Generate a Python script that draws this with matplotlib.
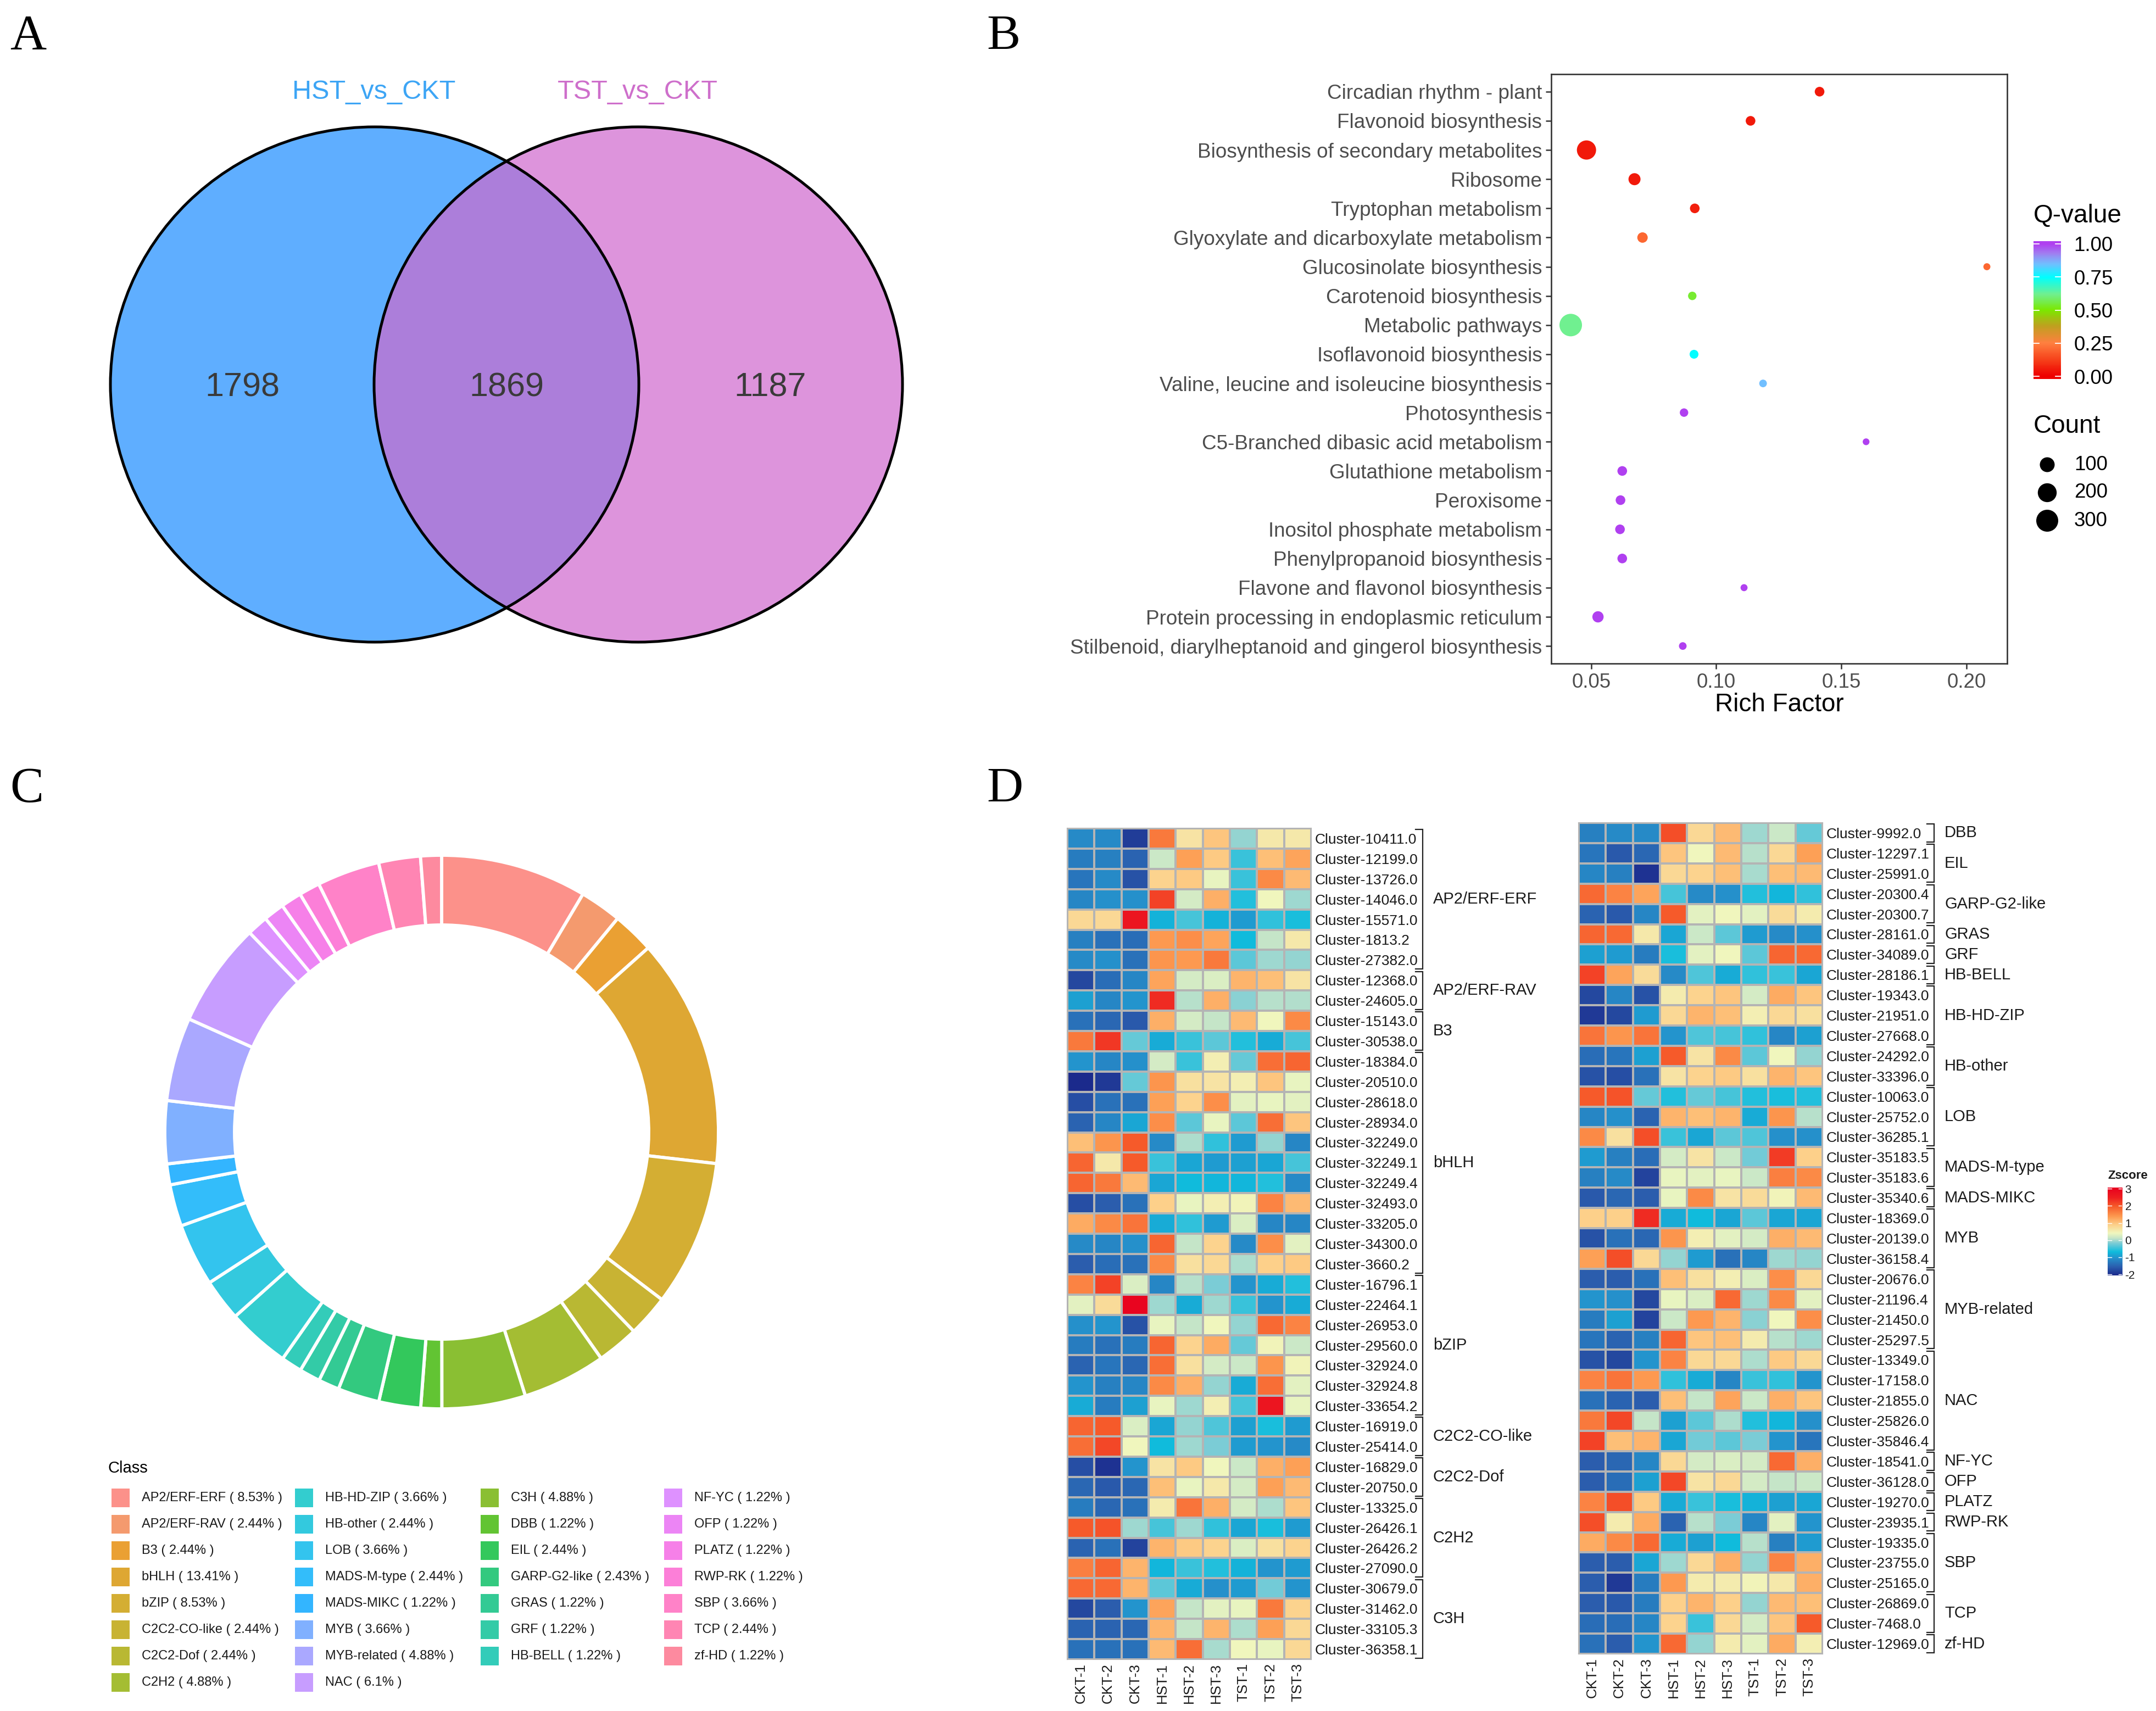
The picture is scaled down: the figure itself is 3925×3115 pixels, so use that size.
import numpy as np
import matplotlib
matplotlib.use("Agg")
import matplotlib.pyplot as plt
from matplotlib.colors import LinearSegmentedColormap, Normalize
from matplotlib.patches import Ellipse, Rectangle

W, H = 3925, 3115
plt.rcParams['font.family'] = ['Liberation Sans', 'DejaVu Sans']

# ---------- data ----------
venn_names = ["HST_vs_CKT", "TST_vs_CKT"]
venn_counts = [1798, 1869, 1187]

pathways = ["Circadian rhythm - plant", "Flavonoid biosynthesis", "Biosynthesis of secondary metabolites",
            "Ribosome", "Tryptophan metabolism", "Glyoxylate and dicarboxylate metabolism",
            "Glucosinolate biosynthesis", "Carotenoid biosynthesis", "Metabolic pathways",
            "Isoflavonoid biosynthesis", "Valine, leucine and isoleucine biosynthesis", "Photosynthesis",
            "C5-Branched dibasic acid metabolism", "Glutathione metabolism", "Peroxisome",
            "Inositol phosphate metabolism", "Phenylpropanoid biosynthesis", "Flavone and flavonol biosynthesis",
            "Protein processing in endoplasmic reticulum", "Stilbenoid, diarylheptanoid and gingerol biosynthesis"]
rich_factor = [0.1413, 0.1137, 0.0481, 0.0673, 0.0914, 0.0705, 0.2082, 0.0904, 0.0418, 0.0911,
               0.1187, 0.0871, 0.1599, 0.0624, 0.0617, 0.0615, 0.0624, 0.1111, 0.0527, 0.0866]
q_value = [0.05, 0.05, 0.05, 0.05, 0.06, 0.2, 0.2, 0.54, 0.62, 0.75,
           0.85, 1.0, 1.0, 1.0, 1.0, 1.0, 1.0, 1.0, 1.0, 1.0]
gene_count = [22, 22, 210, 51, 22, 30, 4, 12, 320, 15, 7, 12, 3, 22, 22, 22, 22, 4, 40, 7]
count_legend = [100, 200, 300]
q_ticks = [0.0, 0.25, 0.5, 0.75, 1.0]

classes = ["AP2/ERF-ERF", "AP2/ERF-RAV", "B3", "bHLH", "bZIP", "C2C2-CO-like", "C2C2-Dof", "C2H2",
           "C3H", "DBB", "EIL", "GARP-G2-like", "GRAS", "GRF", "HB-BELL",
           "HB-HD-ZIP", "HB-other", "LOB", "MADS-M-type", "MADS-MIKC", "MYB", "MYB-related", "NAC",
           "NF-YC", "OFP", "PLATZ", "RWP-RK", "SBP", "TCP", "zf-HD"]
class_pct = ["8.53", "2.44", "2.44", "13.41", "8.53", "2.44", "2.44", "4.88",
             "4.88", "1.22", "2.44", "2.43", "1.22", "1.22", "1.22",
             "3.66", "2.44", "3.66", "2.44", "1.22", "3.66", "4.88", "6.1",
             "1.22", "1.22", "1.22", "1.22", "3.66", "2.44", "1.22"]
class_colors = ["#FC918A", "#F49A6E", "#EAA033", "#DEA733", "#D4AE33", "#C8B333", "#B9B833", "#A4BD33",
                "#8ABF33", "#62C433", "#33C85C", "#33C97F", "#33CA94", "#33CBA7", "#33CCB9",
                "#33CDCF", "#33C9DE", "#33C4EE", "#33BDFA", "#33B5FF", "#80B0FF", "#AAA8FF", "#C79DFF",
                "#DE91FF", "#EC85F5", "#F680E8", "#FC7FD8", "#FF82C8", "#FF85B3", "#FD8A9F"]

samples = ["CKT-1", "CKT-2", "CKT-3", "HST-1", "HST-2", "HST-3", "TST-1", "TST-2", "TST-3"]

left_rows = ["Cluster-10411.0", "Cluster-12199.0", "Cluster-13726.0", "Cluster-14046.0", "Cluster-15571.0",
             "Cluster-1813.2", "Cluster-27382.0", "Cluster-12368.0", "Cluster-24605.0", "Cluster-15143.0",
             "Cluster-30538.0", "Cluster-18384.0", "Cluster-20510.0", "Cluster-28618.0", "Cluster-28934.0",
             "Cluster-32249.0", "Cluster-32249.1", "Cluster-32249.4", "Cluster-32493.0", "Cluster-33205.0",
             "Cluster-34300.0", "Cluster-3660.2", "Cluster-16796.1", "Cluster-22464.1", "Cluster-26953.0",
             "Cluster-29560.0", "Cluster-32924.0", "Cluster-32924.8", "Cluster-33654.2", "Cluster-16919.0",
             "Cluster-25414.0", "Cluster-16829.0", "Cluster-20750.0", "Cluster-13325.0", "Cluster-26426.1",
             "Cluster-26426.2", "Cluster-27090.0", "Cluster-30679.0", "Cluster-31462.0", "Cluster-33105.3",
             "Cluster-36358.1"]
left_groups = ["AP2/ERF-ERF", "AP2/ERF-RAV", "B3", "bHLH", "bZIP", "C2C2-CO-like", "C2C2-Dof", "C2H2", "C3H"]
left_group_sizes = [7, 2, 2, 11, 7, 2, 2, 4, 4]
left_z = [
    [-1.15, -1.15, -1.9, 1.7, .65, 1.0, -.1, .6, .6],
    [-1.3, -1.25, -1.55, .15, 1.35, .95, -.5, 1.05, 1.3],
    [-1.35, -1.15, -1.7, .85, .95, .35, -.5, 1.55, 1.1],
    [-1.2, -1.1, -1.1, 2.2, .2, 1.2, -.6, .4, -.05],
    [.8, .8, 2.7, -.8, -.45, -.8, -1, -.55, -.65],
    [-1.25, -1.4, -1.45, 1.4, 1.5, 1.3, -.7, .1, .6],
    [-1.15, -1.1, -1.4, 1.45, 1.4, 1.7, -.35, -.05, -.1],
    [-1.8, -1.45, -1.2, 1.3, .2, .25, 1.15, 1.05, .65],
    [-.95, -1.2, -1.05, 2.4, .05, 1.2, -.15, .05, .02],
    [-1.4, -1.5, -1.65, 1.2, .2, .1, 1.1, .4, 1.55],
    [1.7, 2.3, -.3, -.85, -.5, -.35, -.6, -.85, -.45],
    [-1.05, -1.2, -1.1, .2, -.5, .5, -.3, 1.8, 1.9],
    [-2.1, -1.95, -.3, 1.45, .7, .65, .5, 1.0, .35],
    [-1.75, -1.4, -1.4, 1.35, .85, 1.5, .3, .35, .3],
    [-1.55, -1.2, -.9, 1.5, -.35, .35, -.35, 1.8, 1.0],
    [1.05, 1.45, 2.0, -1.15, .0, -.55, -1, -.1, -1.2],
    [1.9, .6, 2.0, -.5, -.9, -1, -.95, -.9, -.45],
    [1.9, 1.7, 1.1, -.9, -.7, -.75, -.75, -.6, -1.15],
    [-1.75, -1.6, -1.4, .9, .35, .5, .45, 1.6, 1.1],
    [1.25, 1.55, 1.75, -.85, -.55, -1, .25, -1.2, -1.2],
    [-1.15, -1.2, -1.1, 1.9, .1, .85, -1.15, 1.5, .3],
    [-1.6, -1.45, -1.4, 1.55, .7, .8, 0, .9, .95],
    [1.6, 2.2, .25, -1.2, .05, -.2, -1.05, -.85, -.6],
    [.3, .75, 3.0, -.05, -.85, -.05, -.5, -1.05, -.85],
    [-1.1, -1.05, -1.7, .35, .1, .4, -.1, 1.85, 1.6],
    [-1.3, -1.4, -1.3, 1.9, .85, 1.25, -.3, .45, .15],
    [-1.55, -1.35, -1.5, 1.8, .7, .2, .15, 1.45, .45],
    [-1.05, -1.25, -1.2, 1.55, 1.2, -.1, -.85, 1.8, .3],
    [-.85, -1.3, -.95, .35, -.05, .5, -.45, 2.7, .35],
    [1.9, 2.0, .25, -.9, -.1, -.4, -.95, -.65, -1.0],
    [1.8, 2.15, .4, -.7, -.05, -.2, -1.0, -1.05, -1.15],
    [-1.75, -2, -1.05, .65, .95, .4, .15, 1.2, 1.35],
    [-1.5, -1.65, -1.5, 1.05, .35, .6, .2, 1.35, 1.1],
    [-1.3, -1.5, -1.4, .55, 1.75, 1.2, .2, .0, 1.0],
    [2.0, 2.05, -.05, -.45, -.05, -.55, -.9, -.65, -1.0],
    [-1.55, -1.4, -1.85, 1.15, .95, .85, .25, .7, .85],
    [1.65, 1.9, 1.15, -.75, -.5, -.6, -.8, -1.05, -1.0],
    [1.85, 1.85, 1.15, -.35, -.85, -1.1, -1.0, -.25, -1.05],
    [-1.8, -1.6, -1.05, 1.3, .1, .3, .35, 1.7, .85],
    [-1.55, -1.55, -1.5, 1.15, .1, 1.15, 0, 1.35, .8],
    [-1.4, -1.4, -1.4, 1.1, 1.8, -.02, .4, .35, .8],
]

right_rows = ["Cluster-9992.0", "Cluster-12297.1", "Cluster-25991.0", "Cluster-20300.4", "Cluster-20300.7",
              "Cluster-28161.0", "Cluster-34089.0", "Cluster-28186.1", "Cluster-19343.0", "Cluster-21951.0",
              "Cluster-27668.0", "Cluster-24292.0", "Cluster-33396.0", "Cluster-10063.0", "Cluster-25752.0",
              "Cluster-36285.1", "Cluster-35183.5", "Cluster-35183.6", "Cluster-35340.6", "Cluster-18369.0",
              "Cluster-20139.0", "Cluster-36158.4", "Cluster-20676.0", "Cluster-21196.4", "Cluster-21450.0",
              "Cluster-25297.5", "Cluster-13349.0", "Cluster-17158.0", "Cluster-21855.0", "Cluster-25826.0",
              "Cluster-35846.4", "Cluster-18541.0", "Cluster-36128.0", "Cluster-19270.0", "Cluster-23935.1",
              "Cluster-19335.0", "Cluster-23755.0", "Cluster-25165.0", "Cluster-26869.0", "Cluster-7468.0",
              "Cluster-12969.0"]
right_groups = ["DBB", "EIL", "GARP-G2-like", "GRAS", "GRF", "HB-BELL", "HB-HD-ZIP", "HB-other", "LOB",
                "MADS-M-type", "MADS-MIKC", "MYB", "MYB-related", "NAC", "NF-YC", "OFP", "PLATZ", "RWP-RK",
                "SBP", "TCP", "zf-HD"]
right_group_sizes = [1, 2, 2, 1, 1, 1, 3, 2, 3, 2, 1, 3, 4, 5, 1, 1, 1, 1, 3, 2, 1]
right_z = [
    [-1.25, -1.15, -1.15, 2.1, .8, 1.1, -.05, .15, -.3],
    [-1.35, -1.65, -1.5, 1.0, .4, 1.1, .05, .8, 1.35],
    [-1.2, -1.25, -2.0, .8, .85, 1.05, -.02, 1.05, 1.1],
    [1.85, 1.6, 1.3, -.45, -1.15, -1.1, -.6, -.75, -.55],
    [-1.55, -1.65, -1.2, 2.0, .3, .4, .3, .75, .55],
    [1.9, 1.85, .6, -.9, .15, -.35, -1, -1.15, -1.1],
    [-.95, -1, -1.3, -.65, .3, .4, -.35, 1.9, 1.85],
    [2.2, 1.3, .75, -1.15, -.4, -.85, -.55, -.5, -.9],
    [-1.8, -1.2, -1.7, .55, .85, 1.0, .2, 1.25, 1.0],
    [-1.95, -1.8, -1.0, .8, 1.15, 1.05, .5, .8, .7],
    [1.75, 1.45, 1.75, -1.05, -.4, -.45, -.55, -1.2, -.95],
    [-1.45, -1.35, -.95, 2.0, .65, 1.55, -.35, .4, -.1],
    [-1.7, -1.75, -1.4, .65, .85, .95, .7, 1.15, 1.0],
    [2.0, 2.05, -.3, -.6, -.3, -.45, -.6, -.65, -.6],
    [-1.2, -1.1, -1.55, 1.15, 1.05, 1.15, -.85, 1.45, .05],
    [1.55, .7, 2.1, -.5, -.9, -.35, -.4, -1.1, -1.1],
    [-1, -1.25, -1.45, .2, .65, .15, -.25, 2.25, .9],
    [-1.25, -1.15, -1.85, .35, .3, .35, .15, 1.65, 1.55],
    [-1.65, -1.5, -1.6, .35, 1.55, .65, .75, .45, 1.1],
    [.9, .9, 2.4, -.85, -.7, -.9, -.35, -.9, -.9],
    [-1.7, -1.4, -1.5, 1.45, .5, .3, .2, 1.2, 1.1],
    [1.35, 2.1, .8, -.1, -1, -1.4, -1.2, -.05, -.1],
    [-1.6, -1.6, -1.4, 1.05, .7, .5, .25, 1.5, .8],
    [-1.05, -1.1, -1.8, .35, .25, 1.85, -.05, 1.55, .3],
    [-1.3, -.95, -1.85, .15, 1.4, 1.15, -.15, .4, 1.5],
    [-1.35, -1.55, -1.25, 1.9, 1.0, 1.05, .55, .05, -.05],
    [-1.7, -1.8, -1.05, 1.6, .8, .8, 0, .95, .8],
    [1.6, 1.75, 1.4, -.55, -.85, -1.2, -.5, -.55, -1.05],
    [-1.4, -1.55, -1.6, 1.05, .1, 1.3, .15, 1.2, 1.0],
    [1.7, 2.15, .1, -.95, -.35, .0, -.6, -.75, -1.1],
    [2.2, 1.05, 1.15, -.9, -.25, -.35, -.2, -1.05, -1.35],
    [-1.6, -1.5, -1.2, .8, .2, .25, .2, 1.85, 1.2],
    [-1.6, -1.45, -.95, 2.15, .65, .8, .2, .1, .15],
    [1.6, 2.1, .95, -.85, -.5, -.65, -.8, -.95, -.9],
    [2.1, .55, 1.25, -1.55, .05, -.2, -1.2, .3, -1.05],
    [1.25, 1.55, 1.85, -.85, -.95, -.7, .05, -1.25, -1],
    [-1.6, -1.6, -.9, -.05, .8, 1.2, -.1, 1.6, 1.2],
    [-1.6, -1.95, -1.3, 1.4, .55, .55, .45, .6, 1.2],
    [-1.6, -1.65, -1.3, .9, 1.15, .9, -.1, 1.1, 1.05],
    [-1.45, -1.45, -1.2, .85, -.5, .8, .2, 1.0, 2.0],
    [-1.4, -1.6, -1.05, 1.85, -.1, .55, .3, 1.25, .5],
]
z_ticks = [-2, -1, 0, 1, 2, 3]

# ---------- helpers ----------
fig = plt.figure(figsize=(W / 100, H / 100), dpi=100, facecolor='white')


def px_axes(x0, y0, x1, y1, **kw):
    return fig.add_axes([x0 / W, 1 - y1 / H, (x1 - x0) / W, (y1 - y0) / H], **kw)


def px_text(x, y, s, **kw):
    kw.setdefault('va', 'center')
    kw.setdefault('ha', 'left')
    return fig.text(x / W, 1 - y / H, s, **kw)


def dia_to_s(d_px):
    return (d_px * 0.72) ** 2


def count_to_dia(c):
    return 9.24 + 1.776 * np.sqrt(c)


# panel letters
for letter, (lx, ly) in {"A": (18, 68), "B": (1796, 68), "C": (18, 1438), "D": (1796, 1438)}.items():
    px_text(lx, ly, letter, fontsize=66, family=['Liberation Serif'], color='black')

# ---------- A: Venn ----------
axA = px_axes(0, 0, 1700, 1300)
axA.set_xlim(0, 1700)
axA.set_ylim(1300, 0)
axA.axis('off')
cL, cR, cy, rx, ry = 682, 1162, 700, 481, 469
axA.add_patch(Ellipse((cL, cy), 2 * rx, 2 * ry, fc='#5FAEFF', ec='none'))
axA.add_patch(Ellipse((cR, cy), 2 * rx, 2 * ry, fc='#DD94DC', ec='none'))
both = Ellipse((cL, cy), 2 * rx, 2 * ry, fc='#AC7EDA', ec='none')
axA.add_patch(both)
both.set_clip_path(Ellipse((cR, cy), 2 * rx, 2 * ry, transform=axA.transData))
axA.add_patch(Ellipse((cL, cy), 2 * rx, 2 * ry, fc='none', ec='black', lw=3.6))
axA.add_patch(Ellipse((cR, cy), 2 * rx, 2 * ry, fc='none', ec='black', lw=3.6))
axA.text(681, 168, venn_names[0], color='#3DA5F5', fontsize=35, ha='center', va='center')
axA.text(1161, 168, venn_names[1], color='#CE6FCB', fontsize=35, ha='center', va='center')
for x, n in zip([441, 922, 1402], venn_counts):
    axA.text(x, 706, str(n), color='#3A3A3A', fontsize=44, ha='center', va='center')

# ---------- B: bubble ----------
qcmap = LinearSegmentedColormap.from_list('q', [
    (0.0, '#EE0000'), (0.12, '#F6401A'), (0.25, '#FF8040'), (0.38, '#C0A020'), (0.5, '#7CE800'),
    (0.62, '#70F090'), (0.75, '#00FFFF'), (0.85, '#70C0FF'), (0.93, '#A080F0'), (1.0, '#B040F0')])
axB = px_axes(2824, 135, 3654, 1208)
ypos = np.arange(len(pathways))
axB.scatter(rich_factor, ypos, s=[dia_to_s(count_to_dia(c)) for c in gene_count],
            c=q_value, cmap=qcmap, vmin=0, vmax=1, linewidths=0, zorder=3)
axB.set_xlim(0.034, 0.2163)
axB.set_ylim(19.6, -0.6)
axB.set_yticks(ypos)
axB.set_yticklabels(pathways, fontsize=26.6, color='#4D4D4D')
axB.set_xticks([0.05, 0.10, 0.15, 0.20])
axB.set_xticklabels(['0.05', '0.10', '0.15', '0.20'], fontsize=26.5, color='#4D4D4D')
axB.tick_params(axis='both', length=7.5, width=1.8, color='#333333', pad=4.5)
for s in axB.spines.values():
    s.set_linewidth(1.9)
    s.set_color('#333333')
px_text(3239, 1283, "Rich Factor", fontsize=33, ha='center', color='black')

px_text(3702, 393, "Q-value", fontsize=33, color='black')
cbB = px_axes(3702, 439, 3752, 690)
cbB.imshow(np.linspace(-0.02, 1.02, 256)[:, None], aspect='auto', origin='lower', cmap=qcmap, vmin=0, vmax=1,
           extent=[0, 1, -0.02, 1.02])
cbB.set_xticks([])
cbB.yaxis.tick_right()
cbB.set_yticks(q_ticks)
cbB.set_yticklabels(['%.2f' % t for t in q_ticks], fontsize=26.5, color='black')
cbB.tick_params(axis='y', length=0, pad=17)
for s in cbB.spines.values():
    s.set_visible(False)
for t in q_ticks:
    cbB.plot([0, 0.2], [t, t], color='white', lw=1.3)
    cbB.plot([0.8, 1], [t, t], color='white', lw=1.3)
cbB.set_xlim(0, 1)
cbB.set_ylim(-0.02, 1.02)

px_text(3702, 776, "Count", fontsize=33, color='black')
for yy, c in zip([846, 897, 948], count_legend):
    px_text(3776, yy, str(c), fontsize=26.5, color='black')
lgB = px_axes(3700, 820, 3754, 975)
lgB.scatter([0, 0, 0], count_legend, s=[dia_to_s(count_to_dia(c)) for c in count_legend], color='black', linewidths=0)
lgB.set_xlim(-1, 1)
lgB.set_ylim(353, 49)
lgB.axis('off')

# ---------- C: donut ----------
cx, cyc, R = 804, 2061, 504
axC = px_axes(cx - R, cyc - R, cx + R, cyc + R)
axC.pie([float(p) for p in class_pct], colors=class_colors, startangle=90, counterclock=False, radius=1,
        wedgeprops=dict(width=0.252, edgecolor='white', linewidth=4.2))
axC.set_xlim(-1, 1)
axC.set_ylim(-1, 1)

px_text(197, 2673, "Class", fontsize=21, color='black')
col_x = [203, 537, 875, 1209]
col_slices = [(0, 8), (15, 23), (8, 15), (23, 30)]
for x0, (a, b) in zip(col_x, col_slices):
    for i, k in enumerate(range(a, b)):
        yc = 2726.5 + 48.1 * i
        fig.patches.append(Rectangle((x0 / W, 1 - (yc + 17) / H), 33 / W, 34 / H, transform=fig.transFigure,
                                     fc=class_colors[k], ec='none'))
        px_text(x0 + 55, yc, f"{classes[k]} ( {class_pct[k]}% )", fontsize=17, color='#1A1A1A')

# ---------- D: heatmaps ----------
zcmap = LinearSegmentedColormap.from_list('z', [
    (0.0, '#1B2A8C'), (0.0961, '#2B5EAE'), (0.1923, '#2590CB'), (0.2692, '#0FBCDD'), (0.3654, '#7CCCD6'),
    (0.4231, '#C5E5C8'), (0.4808, '#F0F7BE'), (0.5769, '#FDD08A'), (0.6731, '#FD9A50'), (0.7885, '#F65A2A'),
    (0.8846, '#EE2020'), (1.0, '#E8001F')])
znorm = Normalize(-2.1, 3.1)


def heat(box, z, rows, groups, sizes):
    ax = px_axes(*box)
    z = np.array(z)
    ax.pcolormesh(np.arange(10), np.arange(len(rows) + 1), z, cmap=zcmap, norm=znorm,
                  edgecolors='#B4B4B4', linewidth=1.5)
    ax.set_xlim(0, 9)
    ax.set_ylim(len(rows), 0)
    ax.set_yticks(np.arange(len(rows)) + 0.5)
    ax.set_yticklabels(rows, fontsize=19, color='#1A1A1A')
    ax.yaxis.tick_right()
    ax.set_xticks(np.arange(9) + 0.5)
    ax.set_xticklabels(samples, rotation=90, fontsize=18.5, color='#1A1A1A')
    ax.tick_params(axis='both', length=0)
    ax.tick_params(axis='y', pad=4.5)
    ax.tick_params(axis='x', pad=5)
    for s in ax.spines.values():
        s.set_color('#B4B4B4')
        s.set_linewidth(1.5)
    start = 0
    for g, n in zip(groups, sizes):
        end = start + n
        bx = 13.12
        ax.plot([bx - 0.26, bx, bx, bx - 0.26], [start + 0.06, start + 0.06, end - 0.06, end - 0.06],
                color='#222222', lw=1.6, clip_on=False, solid_joinstyle='miter')
        ax.text(13.5, (start + end) / 2, g, fontsize=21, color='#1A1A1A', va='center', ha='left', clip_on=False)
        start = end
    return ax


heat((1943, 1508, 2387, 3021), left_z, left_rows, left_groups, left_group_sizes)
heat((2874, 1498, 3318, 3011), right_z, right_rows, right_groups, right_group_sizes)

px_text(3874, 2140, "Zscore", fontsize=16, fontweight='bold', ha='center', color='#1A1A1A')
cbD = px_axes(3837, 2162, 3863, 2322)
cbD.imshow(np.linspace(-2.1, 3.1, 256)[:, None], aspect='auto', origin='lower', cmap=zcmap, norm=znorm,
           extent=[0, 1, -2.06, 3.07])
cbD.set_xticks([])
cbD.yaxis.tick_right()
cbD.set_yticks(z_ticks)
cbD.set_yticklabels([str(t) for t in z_ticks], fontsize=15, color='#1A1A1A')
cbD.tick_params(axis='y', length=0, pad=4)
for s in cbD.spines.values():
    s.set_visible(False)
for t in z_ticks:
    cbD.plot([0, 0.25], [t, t], color='white', lw=1)
    cbD.plot([0.75, 1], [t, t], color='white', lw=1)
cbD.set_xlim(0, 1)
cbD.set_ylim(-2.06, 3.07)

fig.savefig('out.png', dpi=100, facecolor='white')
